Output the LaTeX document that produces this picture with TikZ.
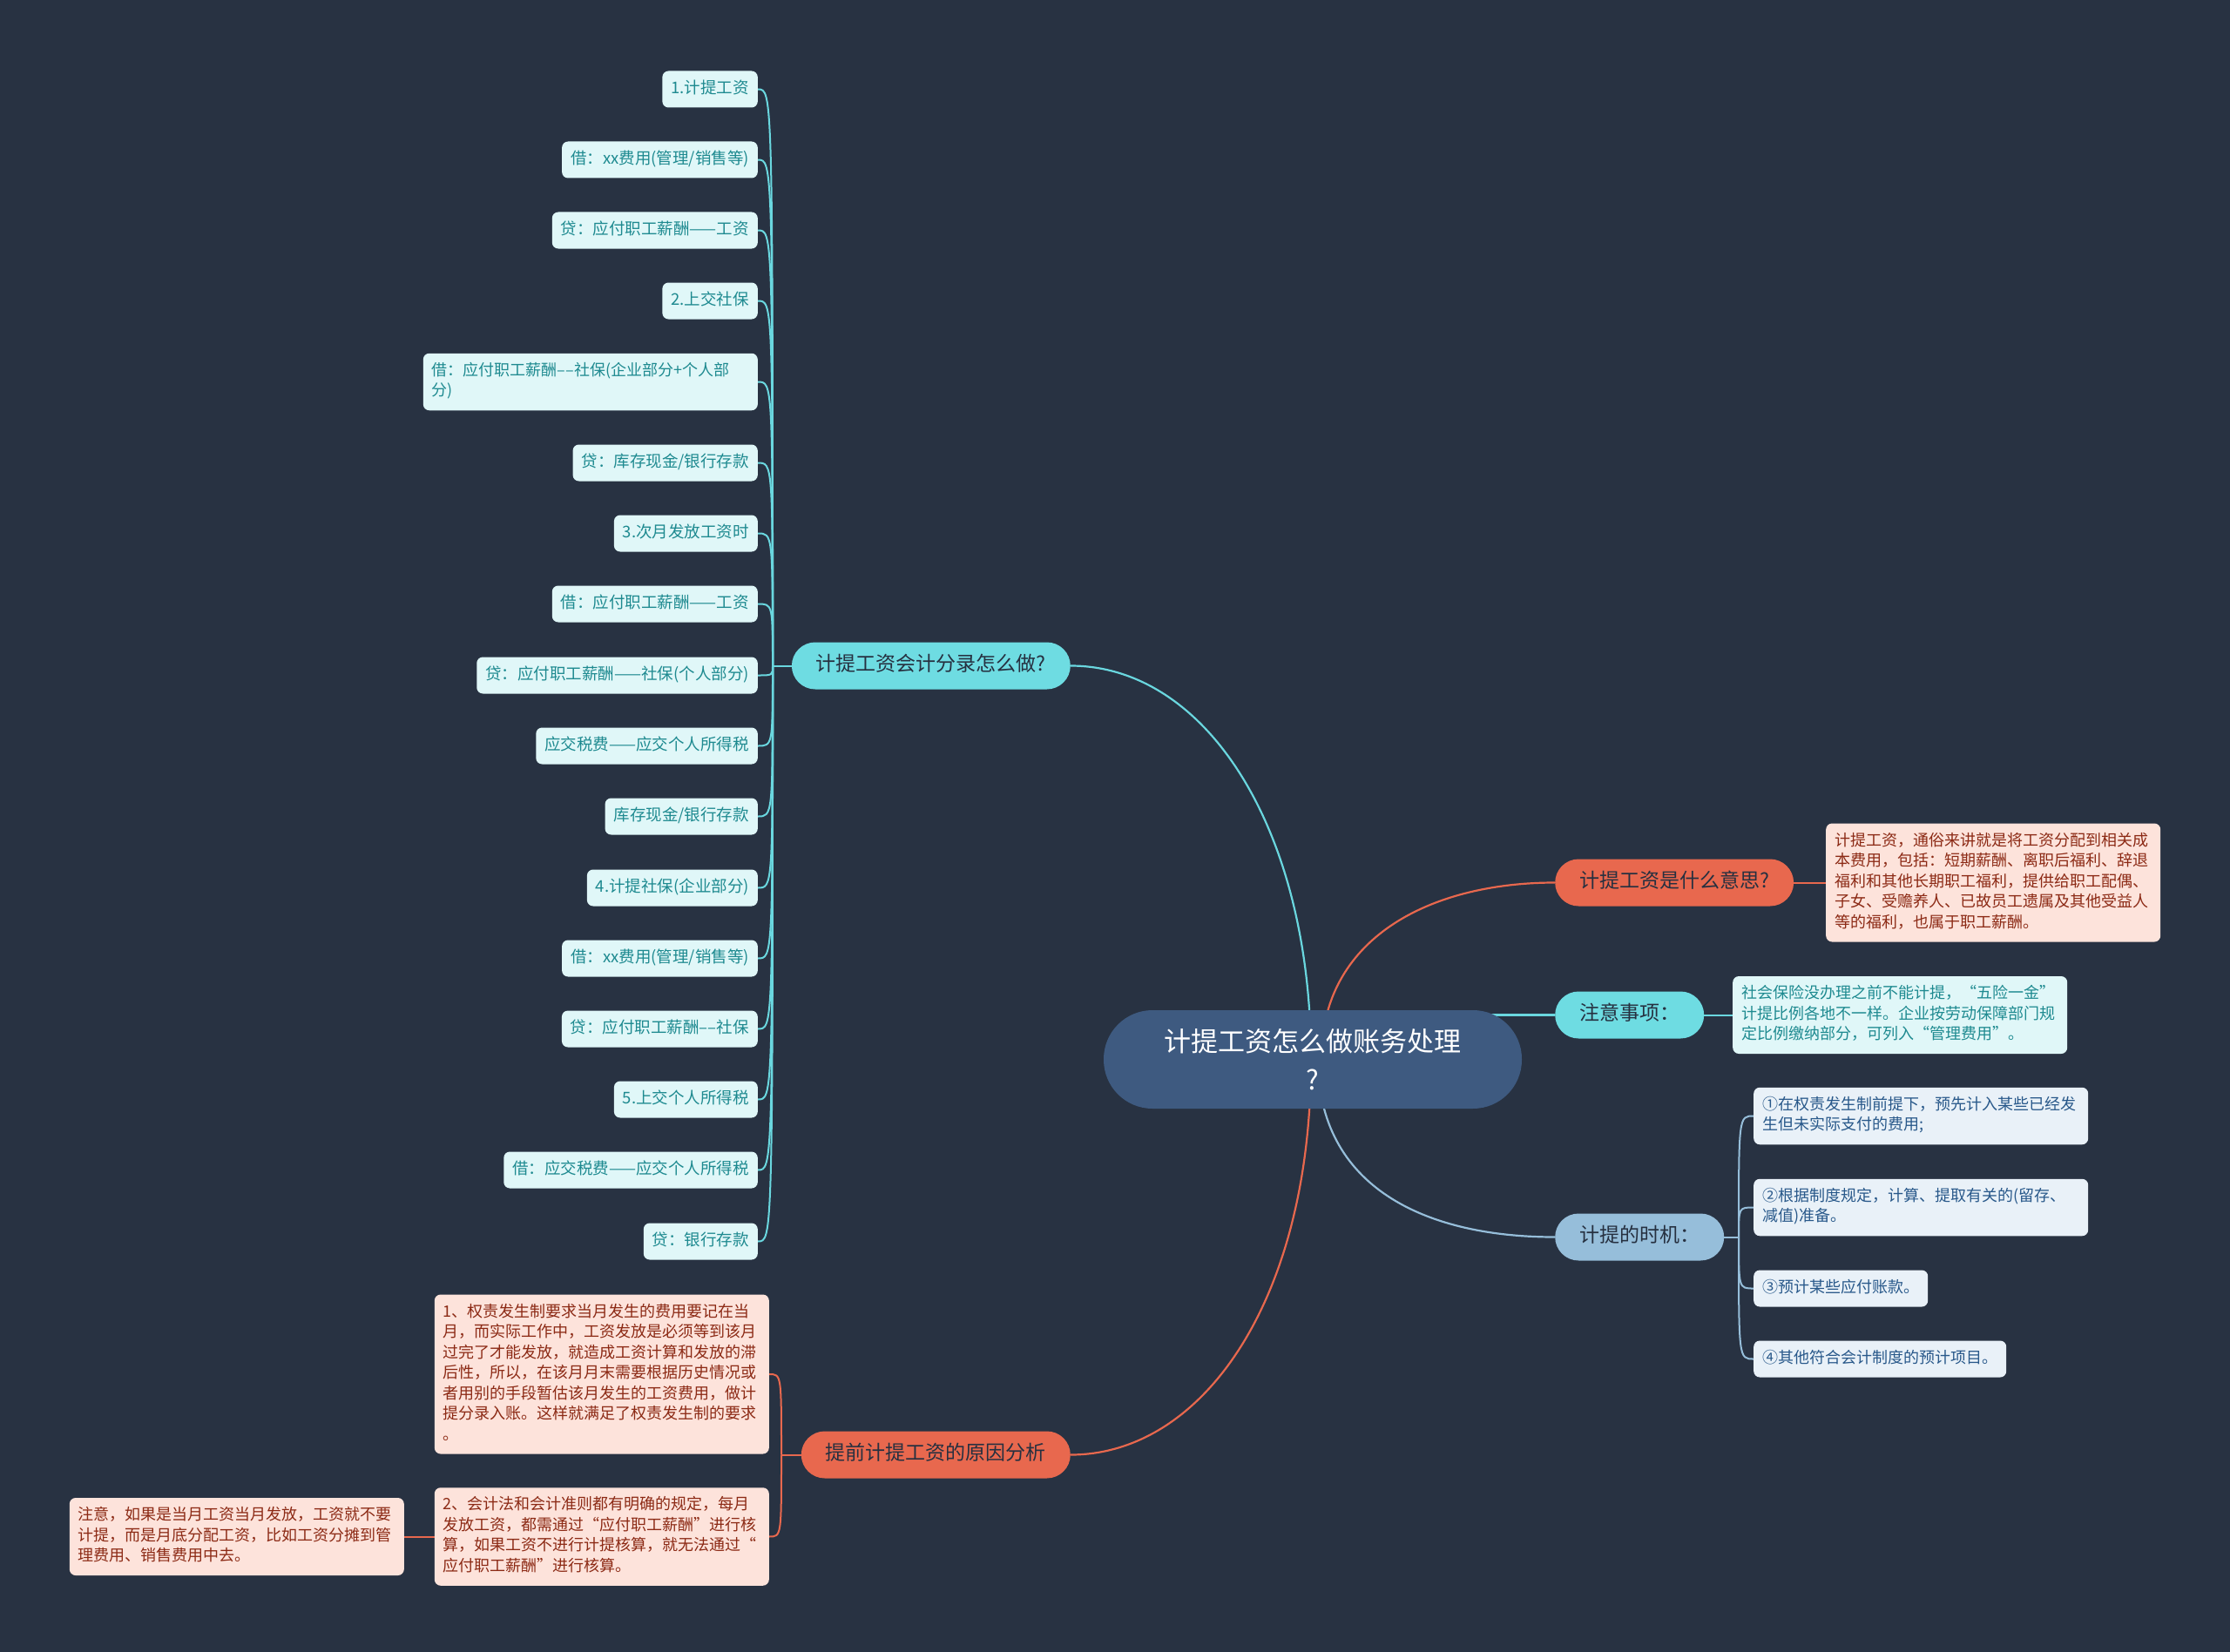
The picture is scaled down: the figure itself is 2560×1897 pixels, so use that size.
\documentclass[tikz,border=0pt]{standalone}
\usepackage{fontspec}
\setmainfont{Noto Sans CJK SC}
\usetikzlibrary{backgrounds,calc}
\definecolor{bg}{HTML}{283242}
\definecolor{rootc}{HTML}{3E5A80}
\definecolor{brtext}{HTML}{263040}
\definecolor{cyanbr}{HTML}{6EDCE2}
\definecolor{cyanln}{HTML}{6AD7DF}
\definecolor{cyanlf}{HTML}{E0F7F8}
\definecolor{cyantx}{HTML}{1E8A90}
\definecolor{orbr}{HTML}{E8684E}
\definecolor{orln}{HTML}{E8684E}
\definecolor{orlf}{HTML}{FDE3DB}
\definecolor{ortx}{HTML}{8C2A15}
\definecolor{blbr}{HTML}{96BEDA}
\definecolor{blln}{HTML}{96BEDA}
\definecolor{bllf}{HTML}{E9F1F8}
\definecolor{bltx}{HTML}{28588A}
\newcommand\fleaf{\fontsize{18pt}{23.5pt}\selectfont}
\newcommand\fleafb{\fontsize{18.5pt}{23.5pt}\selectfont}
\newcommand\fbranch{\fontsize{23pt}{28pt}\selectfont}
\newcommand\froot{\fontsize{31pt}{44pt}\selectfont}
\begin{document}
\begin{tikzpicture}[x=1pt,y=-1pt,
  rootbox/.style={rectangle, rounded corners=56pt, fill=rootc, text=white, font=\froot,
    minimum width=480pt, minimum height=113pt, align=center, inner sep=0pt},
  brbase/.style={rectangle, rounded corners=27pt, font=\fbranch, inner xsep=28pt,
    inner ysep=13pt, text=brtext, execute at begin node=\strut},
  brcyan/.style={brbase, fill=cyanbr},
  brorange/.style={brbase, fill=orbr},
  brblue/.style={brbase, fill=blbr},
  lfbase/.style={rectangle, rounded corners=7pt, font=\fleaf, inner xsep=10pt,
    inner ysep=9.25pt, execute at begin node=\strut, execute at end node=\strut},
  lfcyan/.style={lfbase, fill=cyanlf, text=cyantx},
  lfcyanb/.style={lfcyan, font=\fleafb},
  lforange/.style={lfbase, fill=orlf, text=ortx},
  lfblue/.style={lfbase, fill=bllf, text=bltx},
  para/.style={text width=364pt, align=left},
  lncyan/.style={draw=cyanln, line width=2pt},
  lnorange/.style={draw=orln, line width=2pt},
  lnblue/.style={draw=blln, line width=2pt}
]
\useasboundingbox (0,0) rectangle (2560,1897);

\begin{scope}[shift={(0,2.5)}]
% root
\node[rootbox] (root) at (1507,1214) {计提工资怎么做账务处理\\?};

% branches
\node[brcyan, anchor=east] (b1) at (1229,762) {计提工资会计分录怎么做?};
\node[brorange, anchor=west] (b2) at (1785,1011) {计提工资是什么意思?};
\node[brcyan, anchor=west] (b3) at (1785,1163) {注意事项：};
\node[brblue, anchor=west] (b4) at (1785,1418) {计提的时机：};
\node[brorange, anchor=east] (b5) at (1229,1668) {提前计提工资的原因分析};

% left cyan leaves
\node[lfcyanb, anchor=east] (l1) at (870,100) {1.计提工资};
\node[lfcyanb, anchor=east] (l2) at (870,181) {借：xx费用(管理/销售等)};
\node[lfcyanb, anchor=east] (l3) at (870,262) {贷：应付职工薪酬——工资};
\node[lfcyanb, anchor=east] (l4) at (870,343) {2.上交社保};
\node[lfcyan, anchor=east, para] (l5) at (870,436) {借：应付职工薪酬––社保(企业部分+个人部\\分)};
\node[lfcyanb, anchor=east] (l6) at (870,529) {贷：库存现金/银行存款};
\node[lfcyanb, anchor=east] (l7) at (870,610) {3.次月发放工资时};
\node[lfcyanb, anchor=east] (l8) at (870,691) {借：应付职工薪酬——工资};
\node[lfcyanb, anchor=east] (l9) at (870,773) {贷：应付职工薪酬——社保(个人部分)};
\node[lfcyanb, anchor=east] (l10) at (870,854) {应交税费——应交个人所得税};
\node[lfcyanb, anchor=east] (l11) at (870,935) {库存现金/银行存款};
\node[lfcyanb, anchor=east] (l12) at (870,1017) {4.计提社保(企业部分)};
\node[lfcyanb, anchor=east] (l13) at (870,1098) {借：xx费用(管理/销售等)};
\node[lfcyanb, anchor=east] (l14) at (870,1179) {贷：应付职工薪酬––社保};
\node[lfcyanb, anchor=east] (l15) at (870,1260) {5.上交个人所得税};
\node[lfcyanb, anchor=east] (l16) at (870,1341) {借：应交税费——应交个人所得税};
\node[lfcyanb, anchor=east] (l17) at (870,1423) {贷：银行存款};

% right leaves
\node[lforange, anchor=west, para] (p2) at (2096,1011) {计提工资，通俗来讲就是将工资分配到相关成\\本费用，包括：短期薪酬、离职后福利、辞退\\福利和其他长期职工福利，提供给职工配偶、\\子女、受赡养人、已故员工遗属及其他受益人\\等的福利，也属于职工薪酬。};
\node[lfcyan, anchor=west, para] (p3) at (1989,1163) {社会保险没办理之前不能计提，“五险一金”\\计提比例各地不一样。企业按劳动保障部门规\\定比例缴纳部分，可列入“管理费用”。};
\node[lfblue, anchor=west, para] (t1) at (2013,1279) {①在权责发生制前提下，预先计入某些已经发\\生但未实际支付的费用;};
\node[lfblue, anchor=west, para] (t2) at (2013,1384) {②根据制度规定，计算、提取有关的(留存、\\减值)准备。};
\node[lfblue, anchor=west] (t3) at (2013,1477) {③预计某些应付账款。};
\node[lfblue, anchor=west] (t4) at (2013,1558) {④其他符合会计制度的预计项目。};

% bottom-left orange leaves
\node[lforange, anchor=east, para] (o1) at (883,1575.5) {1、权责发生制要求当月发生的费用要记在当\\月，而实际工作中，工资发放是必须等到该月\\过完了才能发放，就造成工资计算和发放的滞\\后性，所以，在该月月末需要根据历史情况或\\者用别的手段暂估该月发生的工资费用，做计\\提分录入账。这样就满足了权责发生制的要求\\。};
\node[lforange, anchor=east, para] (o2) at (883,1762) {2、会计法和会计准则都有明确的规定，每月\\发放工资，都需通过“应付职工薪酬”进行核\\算，如果工资不进行计提核算，就无法通过“\\应付职工薪酬”进行核算。};
\node[lforange, anchor=east, para] (o3) at (464,1762) {注意，如果是当月工资当月发放，工资就不要\\计提，而是月底分配工资，比如工资分摊到管\\理费用、销售费用中去。};

\coordinate (j1) at (887,762);
\coordinate (j5) at (897,1668);
\coordinate (j4) at (1996,1418);
\end{scope}

\begin{pgfonlayer}{background}
\fill[bg] (0,0) rectangle (2560,1897);
% root to branches
\draw[lncyan, line width=2.2pt] (b1.east) .. controls ($(b1.east)+(156,0)$) and ($(root.center)+(-2,-264)$) .. ($(root.center)+(-2,0)$);
\draw[lnorange, line width=2.2pt] ($(root.center)+(10,0)$) .. controls ($(root.center)+(9,-138)$) and ($(b2.west)+(-145,0)$) .. (b2.west);
\draw[lncyan, line width=2.2pt] (b3.west) -- (b3.west -| root.center);
\draw[lnblue, line width=2.2pt] ($(root.center)+(6,0)$) .. controls ($(root.center)+(6,146)$) and ($(b4.west)+(-150,0)$) .. (b4.west);
\draw[lnorange, line width=2.2pt] ($(root.center)+(-2,0)$) .. controls ($(root.center)+(-2,276)$) and ($(b5.east)+(152,0)$) .. (b5.east);
% left cyan group
\draw[lncyan] (b1.west) -- (j1);
\foreach \i in {1,...,17} {
  \draw[lncyan] (j1) .. controls (j1 |- l\i.east) .. (l\i.east);
}
% right leaves
\draw[lnorange] (b2.east) -- (p2.west);
\draw[lncyan] (b3.east) -- (p3.west);
\draw[lnblue] (b4.east) -- (j4);
\foreach \n in {t1,t2,t3,t4} {
  \draw[lnblue] (j4) .. controls (j4 |- \n.west) .. (\n.west);
}
% bottom-left orange group
\draw[lnorange] (b5.west) -- (j5);
\draw[lnorange] (j5) .. controls (j5 |- o1.east) .. (o1.east);
\draw[lnorange] (j5) .. controls (j5 |- o2.east) .. (o2.east);
\draw[lnorange] (o2.west) -- (o3.east);
\end{pgfonlayer}
\end{tikzpicture}
\end{document}
